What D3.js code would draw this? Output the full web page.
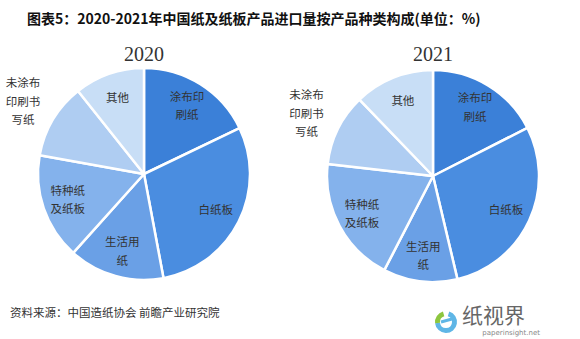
<!DOCTYPE html>
<html><head><meta charset="utf-8">
<script src="https://cdn.jsdelivr.net/npm/d3@7"></script>
<style>
html,body{margin:0;padding:0;background:#fff;}
svg{display:block;}
</style></head>
<body>
<svg id="chart" width="580" height="339"></svg>
<script>
const titleText = "图表5：2020-2021年中国纸及纸板产品进口量按产品种类构成(单位：%)";
const sourceText = "资料来源：中国造纸协会 前瞻产业研究院";
const categories = ["涂布印刷纸","白纸板","生活用纸","特种纸及纸板","未涂布印刷书写纸","其他"];
const labelLines = [["涂布印","刷纸"],["白纸板"],["生活用","纸"],["特种纸","及纸板"],["未涂布","印刷书","写纸"],["其他"]];
const years = ["2020","2021"];
const values2020 = [17.9, 29.2, 14.6, 16.2, 11.5, 10.7];
const values2021 = [17.5, 28.8, 11.3, 19.2, 11.0, 12.2];
const colors = ["#3b80d8","#4a8de0","#6aa0e6","#84b2ec","#afcdf2","#c8def6"];

const svg = d3.select("#chart");
const fontCJK = "'Noto Sans CJK SC','Noto Sans',sans-serif";

svg.append("text").attr("x",27).attr("y",24)
  .attr("font-family",fontCJK).attr("font-weight","bold").attr("font-size",14)
  .attr("fill","#111").text(titleText);

const R = 106;
const pies = [
  {year: years[0], values: values2020, cx: 144, cy: 174},
  {year: years[1], values: values2021, cx: 433, cy: 176}
];
const pie = d3.pie().sort(null).value(d => d);
const arc = d3.arc().innerRadius(0).outerRadius(R);
const labelArc = d3.arc().innerRadius(R*0.76).outerRadius(R*0.76);
const outerLabelArc = d3.arc().innerRadius(R*1.33).outerRadius(R*1.33);
const color = d3.scaleOrdinal().domain(categories).range(colors);

pies.forEach(p => {
  const g = svg.append("g").attr("transform", `translate(${p.cx},${p.cy})`);
  const arcs = pie(p.values);
  g.selectAll("path").data(arcs).join("path")
    .attr("d", arc)
    .attr("fill", (d,i) => color(categories[i]))
    .attr("stroke", "#fff").attr("stroke-width", 2.5).attr("stroke-linejoin","round");
  arcs.forEach((d,i) => {
    const outside = i === 4;
    const [x,y] = (outside ? outerLabelArc : labelArc).centroid(d);
    const lines = labelLines[i];
    const lh = 18.5;
    const t = g.append("text")
      .attr("text-anchor","middle")
      .attr("font-family",fontCJK).attr("font-size",11.5)
      .attr("fill","#333");
    lines.forEach((ln,k) => {
      t.append("tspan").attr("x", x)
        .attr("y", y + (k - (lines.length-1)/2)*lh + 4)
        .text(ln);
    });
  });
  svg.append("text").attr("x",p.cx).attr("y",61)
    .attr("text-anchor","middle")
    .attr("font-family","'Liberation Serif','DejaVu Serif',serif")
    .attr("font-size",20).attr("fill","#333").text(p.year);
});

svg.append("text").attr("x",10).attr("y",317)
  .attr("font-family",fontCJK).attr("font-size",11.5)
  .attr("fill","#333").text(sourceText);

// logo
const logo = svg.append("g").attr("transform","translate(446,322)");
logo.append("path")
  .attr("d", d3.arc().innerRadius(6).outerRadius(11).startAngle(0.3).endAngle(4.6)())
  .attr("fill","#5fb6e6");
logo.append("path")
  .attr("d", d3.arc().innerRadius(6).outerRadius(11).startAngle(4.6).endAngle(6.0)())
  .attr("fill","#8dc63f");
logo.append("path").attr("d","M-5,0 L6,-3").attr("stroke","#5fb6e6").attr("stroke-width",3);
svg.append("text").attr("x",462).attr("y",323)
  .attr("font-family",fontCJK).attr("font-size",21)
  .attr("fill","#666").text("纸视界");
svg.append("text").attr("x",540).attr("y",335).attr("text-anchor","end")
  .attr("font-family","'DejaVu Sans',sans-serif").attr("font-size",7)
  .attr("fill","#888").text("paperinsight.net");
</script>
</body></html>
